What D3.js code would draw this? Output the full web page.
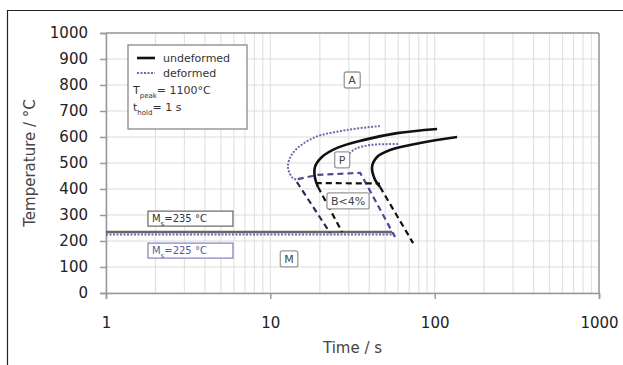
<!DOCTYPE html>
<html>
<head>
<meta charset="utf-8">
<script src="https://cdn.jsdelivr.net/npm/d3@7"></script>
<style>
  body { margin: 0; background: #fff; }
  text { font-family: "DejaVu Sans", Verdana, sans-serif; }
</style>
</head>
<body>
<svg width="623" height="365"></svg>
<script>
// Values: [time in s, temperature in °C]
var deformedStart    = [[46.5,642],[29.3,627],[18.2,596],[13.7,538],[12.8,485],[13.7,442],[14.7,435]];
var deformedFinish   = [[59.9,573],[40.4,569],[32.8,554],[30.5,538]];
var undeformedStart  = [[103.5,631],[59,615],[36.7,588],[25.5,558],[20.6,523],[18.7,485],[18.7,442],[19.5,408]];
var undeformedFinish = [[136.9,600],[81.5,577],[53.5,550],[44.6,523],[41.6,485],[43.4,435],[46.5,408]];
var deformedBainite  = [[14.7,438],[19.2,454],[35.2,462],[36.7,442],[57.4,215]];
var deformedDrop     = [[14.5,427],[23.1,231]];
var undeformedBainite = [[18.9,423],[46.5,421]];
var undeformedDrop1  = [[19.5,408],[27.3,235]];
var undeformedDrop2  = [[46.5,408],[73.9,192]];
var msUndeformed     = [[1,235],[55,235]];
var msDeformed       = [[1,225],[57,225]];

var xTicks = [1, 10, 100, 1000];
var yTicks = d3.range(0, 1001, 100);

// region labels [text, time, temperature]
var regionLabels = [["A", 31.4, 819], ["P", 27.3, 512], ["B<4%", 29.7, 354], ["M", 13.0, 131]];

var svg = d3.select("svg");
var margin = {left: 106, top: 33, right: 24, bottom: 72},
    width = 623 - margin.left - margin.right,
    height = 365 - margin.top - margin.bottom;

// outer frame of the figure
svg.append("line").attr("x1", 7).attr("x2", 623).attr("y1", 10.5).attr("y2", 10.5)
  .attr("stroke", "#222").attr("stroke-width", 1.2);
svg.append("line").attr("x1", 7.5).attr("x2", 7.5).attr("y1", 10).attr("y2", 365)
  .attr("stroke", "#222").attr("stroke-width", 1.2);

var g = svg.append("g").attr("transform", "translate(" + margin.left + "," + margin.top + ")");

var x = d3.scaleLog().domain([1, 1000]).range([0, width]);
var y = d3.scaleLinear().domain([0, 1000]).range([height, 0]);

// grid
var minor = [];
[1, 10, 100].forEach(function(d) { for (var i = 2; i <= 9; i++) minor.push(d * i); });
g.append("g").selectAll("line").data(minor.concat(xTicks)).enter().append("line")
  .attr("x1", function(d) { return x(d); }).attr("x2", function(d) { return x(d); })
  .attr("y1", 0).attr("y2", height)
  .attr("stroke", "#e2e2e2").attr("stroke-width", 1.2);
g.append("g").selectAll("line").data(yTicks).enter().append("line")
  .attr("x1", 0).attr("x2", width)
  .attr("y1", function(d) { return y(d); }).attr("y2", function(d) { return y(d); })
  .attr("stroke", "#dcdcdc").attr("stroke-width", 1.2);

// frame top/right
g.append("line").attr("x1", 0).attr("x2", width).attr("y1", 0).attr("y2", 0).attr("stroke", "#999").attr("stroke-width", 1.5);
g.append("line").attr("x1", width).attr("x2", width).attr("y1", 0).attr("y2", height).attr("stroke", "#999").attr("stroke-width", 1.5);

// axes
var xAxis = g.append("g").attr("transform", "translate(0," + height + ")")
  .call(d3.axisBottom(x).tickValues(xTicks).tickFormat(d3.format("d")).tickSize(6).tickPadding(18));
var yAxis = g.append("g")
  .call(d3.axisLeft(y).tickValues(yTicks).tickFormat(d3.format("d")).tickSize(6).tickPadding(12));
[xAxis, yAxis].forEach(function(a) {
  a.select(".domain").attr("stroke", "#999").attr("stroke-width", 1.5);
  a.selectAll(".tick line").attr("stroke", "#999").attr("stroke-width", 1.5);
  a.selectAll(".tick text").attr("fill", "#222").style("font-size", "15px")
    .style("font-family", "DejaVu Sans, Verdana, sans-serif");
});

svg.append("text").attr("x", margin.left + width / 2).attr("y", 353)
  .attr("text-anchor", "middle").attr("fill", "#444").style("font-size", "15px").text("Time / s");
svg.append("text").attr("transform", "translate(35," + (margin.top + height / 2) + ") rotate(-90)")
  .attr("text-anchor", "middle").attr("fill", "#444").style("font-size", "15px").text("Temperature / °C");

var line = d3.line().x(function(d) { return x(d[0]); }).y(function(d) { return y(d[1]); });
var curve = d3.line().curve(d3.curveCatmullRom.alpha(0.5))
  .x(function(d) { return x(d[0]); }).y(function(d) { return y(d[1]); });

function draw(data, gen, color, w, dash) {
  g.append("path").datum(data).attr("d", gen)
    .attr("fill", "none").attr("stroke", color).attr("stroke-width", w)
    .attr("stroke-dasharray", dash);
}

// Ms lines
draw(msUndeformed, line, "#666", 2.5, null);
draw(msDeformed, line, "#6a6ab0", 2, "2,1.5");

// bainite / drop lines
draw(deformedBainite, line, "#4a4a96", 2.2, "6,4");
draw(deformedDrop, line, "#2a2a55", 2.2, "6,4");
draw(undeformedBainite, line, "#111", 2.2, "6,4");
draw(undeformedDrop1, line, "#111", 2.2, "6,4");
draw(undeformedDrop2, line, "#111", 2.2, "6,4");

// C-curves
draw(deformedStart, curve, "#6a6ab0", 2, "2,1.5");
draw(deformedFinish, curve, "#6a6ab0", 2, "2,1.5");
draw(undeformedStart, curve, "#111", 2.6, null);
draw(undeformedFinish, curve, "#111", 2.6, null);

// region labels
regionLabels.forEach(function(r) {
  var lg = g.append("g").attr("transform", "translate(" + x(r[1]) + "," + y(r[2]) + ")");
  var t = lg.append("text").attr("text-anchor", "middle").attr("dy", "0.36em")
    .attr("fill", "#444").style("font-size", "11px").text(r[0]);
  var bb = t.node().getBBox();
  lg.insert("rect", "text").attr("x", bb.x - 4).attr("y", bb.y - 2)
    .attr("width", bb.width + 8).attr("height", bb.height + 3).attr("rx", 2)
    .attr("fill", "#fff").attr("stroke", "#999").attr("stroke-width", 1.3);
});

// Ms labels
function msLabel(value, temp, color, border) {
  var lg = g.append("g").attr("transform", "translate(" + x(1.8) + "," + y(temp) + ")");
  lg.append("rect").attr("x", 0).attr("y", -7).attr("width", 85).attr("height", 15)
    .attr("fill", "#fff").attr("stroke", border).attr("stroke-width", 1.2);
  var t = lg.append("text").attr("x", 4).attr("dy", "0.35em").attr("fill", color).style("font-size", "10px");
  t.append("tspan").text("M");
  t.append("tspan").attr("baseline-shift", "sub").style("font-size", "7px").text("s");
  t.append("tspan").text("=" + value + " °C");
}
msLabel(235, 288, "#333", "#666");
msLabel(225, 165, "#5a5aa0", "#8080c0");

// legend
var leg = svg.append("g").attr("transform", "translate(128,45)");
leg.append("rect").attr("width", 119).attr("height", 84)
  .attr("fill", "#fff").attr("stroke", "#888").attr("stroke-width", 1.3);
leg.append("line").attr("x1", 9).attr("x2", 27).attr("y1", 13).attr("y2", 13)
  .attr("stroke", "#111").attr("stroke-width", 2.6);
leg.append("line").attr("x1", 9).attr("x2", 27).attr("y1", 28).attr("y2", 28)
  .attr("stroke", "#6a6ab0").attr("stroke-width", 2).attr("stroke-dasharray", "2,1.5");
leg.append("text").attr("x", 35).attr("y", 17).attr("fill", "#333").style("font-size", "11px").text("undeformed");
leg.append("text").attr("x", 35).attr("y", 32).attr("fill", "#333").style("font-size", "11px").text("deformed");
var tp = leg.append("text").attr("x", 5).attr("y", 49).attr("fill", "#333").style("font-size", "11px");
tp.append("tspan").text("T");
tp.append("tspan").attr("baseline-shift", "sub").style("font-size", "7px").text("peak");
tp.append("tspan").text("= 1100°C");
var th = leg.append("text").attr("x", 5).attr("y", 66).attr("fill", "#333").style("font-size", "11px");
th.append("tspan").text("t");
th.append("tspan").attr("baseline-shift", "sub").style("font-size", "7px").text("hold");
th.append("tspan").text("= 1 s");
</script>
</body>
</html>
